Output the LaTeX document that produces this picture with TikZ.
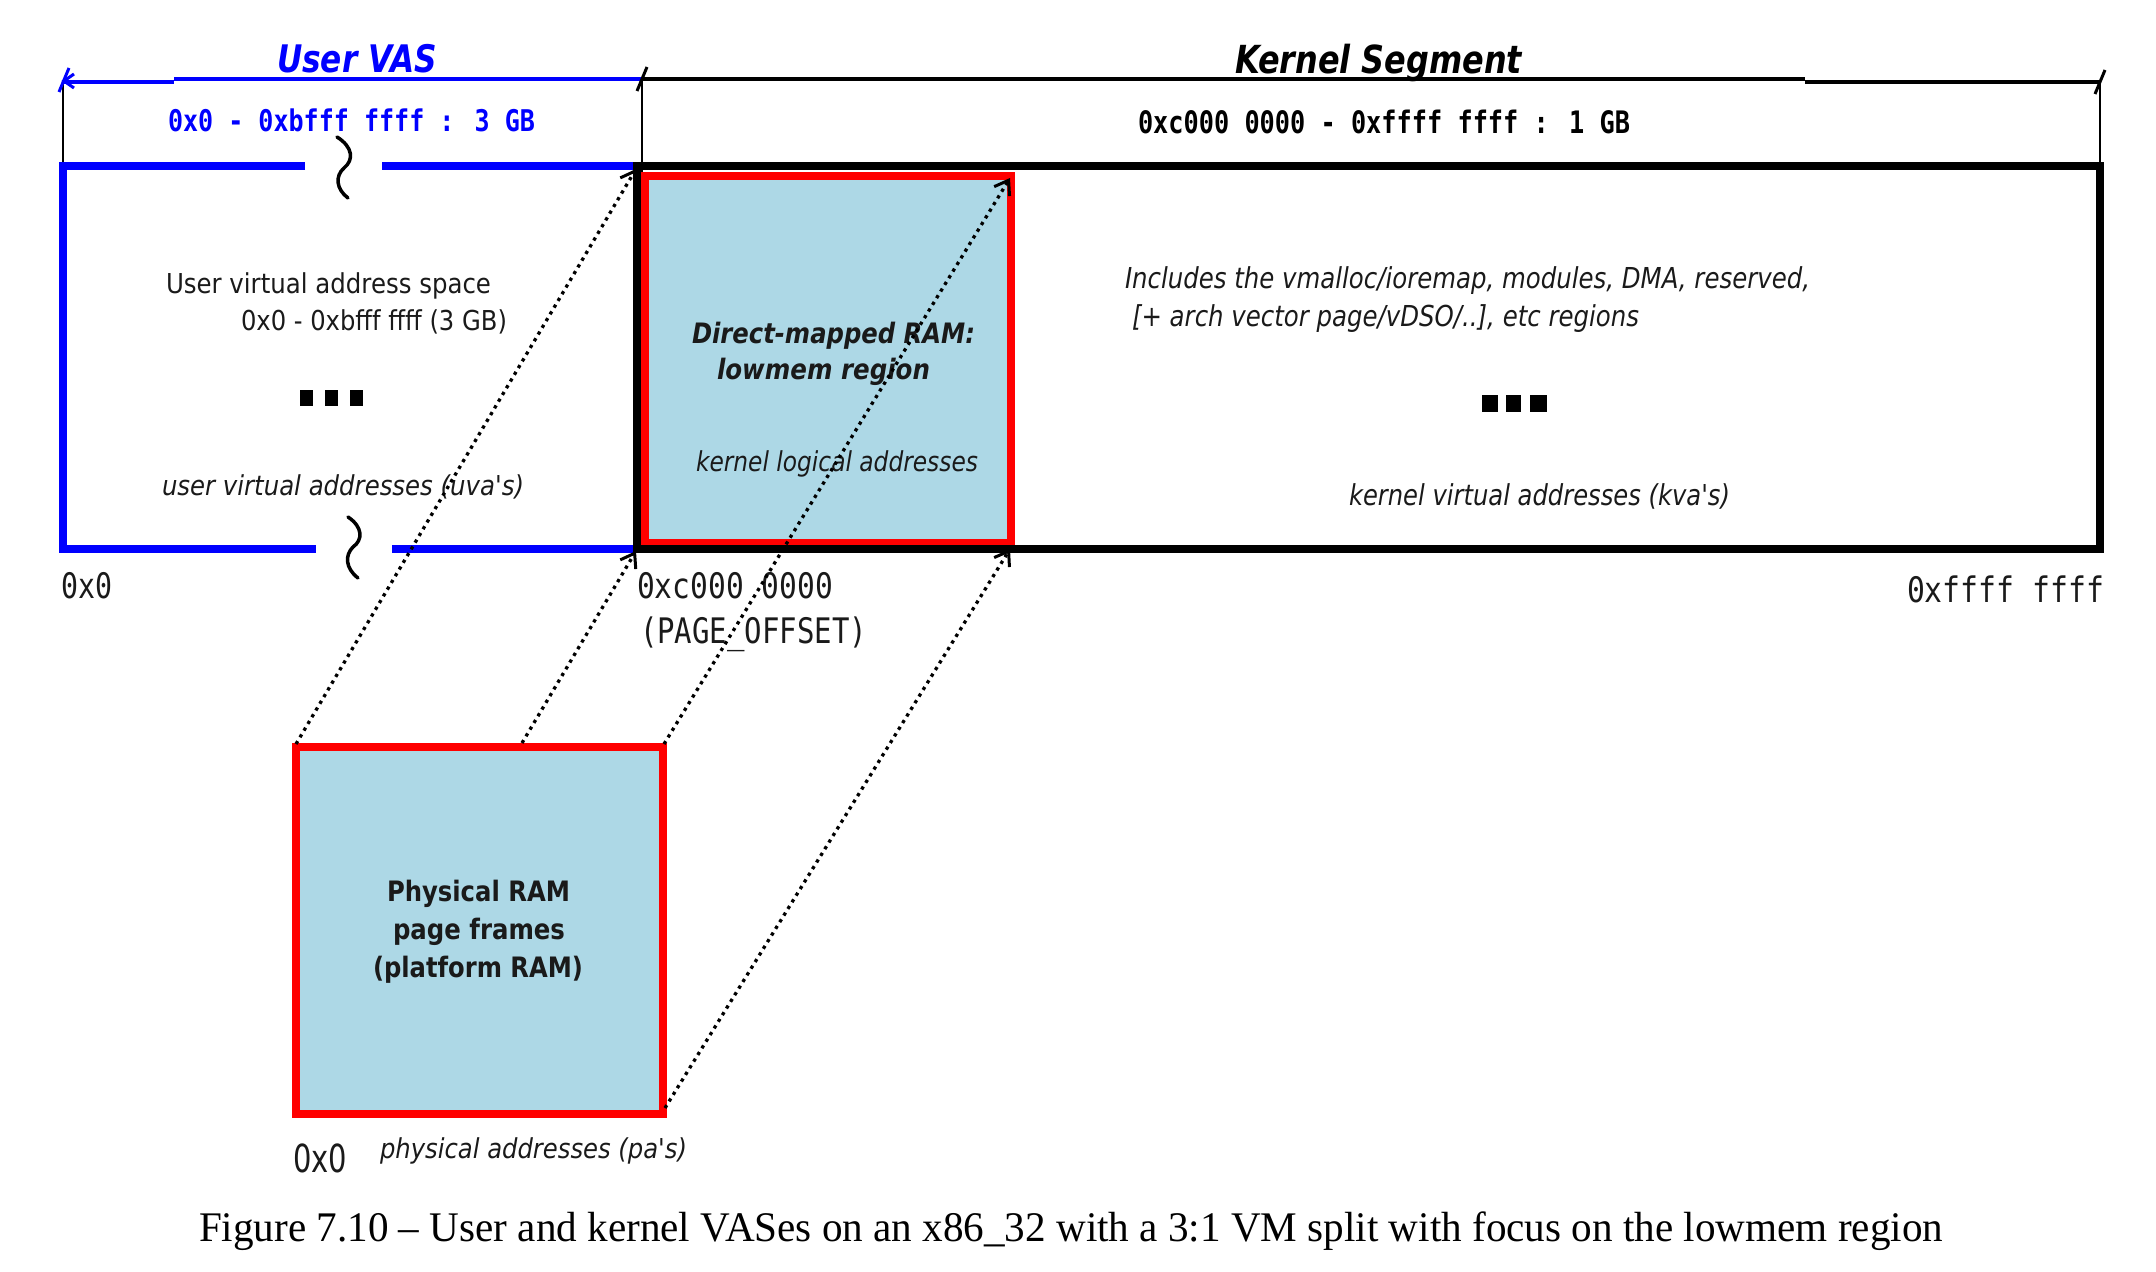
\documentclass[tikz,border=0pt]{standalone}
\usepackage{fontspec}
\usepackage{graphicx}
\setmainfont{DejaVu Sans}
\newfontfamily\dvmono{DejaVu Sans Mono}
\newfontfamily\capfont{Liberation Serif}
\usetikzlibrary{arrows.meta}
\definecolor{lblue}{HTML}{ADD8E6}
\definecolor{txtc}{HTML}{1A1A1A}
\newdimen\pxu \pxu=0.1mm
\newcommand\fw[2]{\resizebox{#1\pxu}{\height}{#2}}
\newcommand\fsz[1]{\fontsize{#1}{#1}\selectfont}
\newcommand\apos{\textquotesingle}
\begin{document}
\begin{tikzpicture}[x=0.1mm,y=-0.1mm,
  txt/.style={anchor=base west, inner sep=0pt, outer sep=0pt, text=txtc},
  dimline/.style={line width=0.35mm},
  thinv/.style={line width=0.25mm, black},
  bigline/.style={line width=0.8mm, line join=miter},
  ram/.style={draw=red, fill=lblue, line width=0.75mm, inner sep=0pt, outer sep=0pt},
  squig/.style={line width=0.35mm, line cap=round},
  dotarrow/.style={line width=0.33mm, dash pattern=on 0.33mm off 0.45mm,
     -{Straight Barb[length=1.3mm,width=1.8mm,line width=0.3mm]}}]
\useasboundingbox (0,0) rectangle (2156,1272);

% ---- top dimension lines ----
\draw[dimline, blue] (64,82) -- (174,82);
\draw[dimline, blue] (174,79) -- (642,79);
\draw[dimline] (642,79) -- (1805,79);
\draw[dimline] (1805,82) -- (2100,82);
% vertical thin lines
\draw[thinv] (63,80) -- (63,166);
\draw[thinv] (642,79) -- (642,175);
\draw[thinv] (2100,82) -- (2100,166);
% end ticks
\draw[blue, line width=0.3mm] (59,92) -- (69,68);
\draw[blue, line width=0.3mm] (74,74) -- (64,81) -- (74,88);
\draw[line width=0.3mm] (637,91) -- (647,67);
\draw[line width=0.3mm] (2095,94) -- (2105,70);

% ---- titles ----
\node[txt, text=blue] (uvas) at (277,73) {\fsz{10.8}\bfseries\itshape\fw{160}{User VAS}};
\node[txt, text=black] (kseg) at (1235,74) {\fsz{11}\bfseries\itshape\fw{287}{Kernel Segment}};
\node[txt, text=blue] (ur) at (168,132) {\dvmono\fsz{8.5}\bfseries\fw{367}{0x0 - 0xbfff ffff : 3 GB}};
\node[txt, text=black] (kr) at (1138,134) {\dvmono\fsz{8.8}\bfseries\fw{492}{0xc000 0000 - 0xffff ffff : 1 GB}};

% ---- lowmem box ----
\node[ram, minimum width=366\pxu, minimum height=367\pxu] (low) at (828,359.5) {};

% ---- user box (blue) ----
\draw[bigline, blue] (305,166) -- (63,166) -- (63,549) -- (316,549);
\draw[bigline, blue] (382,166) -- (637,166);
\draw[bigline, blue] (392,549) -- (637,549);
% ---- kernel box ----
\draw[bigline] (637,166) -- (2100,166) -- (2100,549) -- (637,549) -- cycle;

% squiggles
\draw[squig] (337,137) .. controls (353,147) and (354,160) .. (344,168) .. controls (335,176) and (336,189) .. (348,198);
\draw[squig] (348,517) .. controls (363,527) and (363,540) .. (353,547) .. controls (345,555) and (345,568) .. (358,578);

% ---- user box texts ----
\node[txt] (u1) at (166,294) {\fsz{7.8}\fw{325}{User virtual address space}};
\node[txt] (u2) at (241,331) {\fsz{7.8}\fw{266}{0x0 - 0xbfff ffff (3 GB)}};
\fill[black] (300,390) rectangle (313,406);
\fill[black] (325,390) rectangle (338,406);
\fill[black] (350,390) rectangle (363,406);
\node[txt] (u3) at (162,496) {\fsz{7.8}\itshape\fw{362}{user virtual addresses (uva\apos s)}};

% ---- lowmem texts ----
\node[txt] (l1) at (692,343) {\fsz{8}\bfseries\itshape\fw{283}{Direct-mapped RAM:}};
\node[txt] (l2) at (717,380) {\fsz{8}\bfseries\itshape\fw{213}{lowmem region}};
\node[txt] (l3) at (696,472) {\fsz{7.8}\itshape\fw{282}{kernel logical addresses}};

% ---- kernel texts ----
\node[txt] (k1) at (1125,289) {\fsz{8.2}\itshape\fw{685}{Includes the vmalloc/ioremap, modules, DMA, reserved,}};
\node[txt] (k2) at (1132,327) {\fsz{8.2}\itshape\fw{507}{[+ arch vector page/vDSO/..], etc regions}};
\fill[black] (1482,395) rectangle (1498,412);
\fill[black] (1506,395) rectangle (1521,412);
\fill[black] (1530,395) rectangle (1547,412);
\node[txt] (k3) at (1349,506) {\fsz{8.2}\itshape\fw{381}{kernel virtual addresses (kva\apos s)}};

% ---- address labels ----
\node[txt] (a0) at (62,598) {\dvmono\fsz{10}\fw{51}{0x0}};
\node[txt] (ac) at (637,598) {\dvmono\fsz{10}\fw{196}{0xc000 0000}};
\node[txt] (ap) at (640,644) {\dvmono\fsz{10}\fw{227}{(PAGE\_OFFSET)}};
\node[txt] (af) at (1907,602) {\dvmono\fsz{10}\fw{197}{0xffff ffff}};

% ---- physical RAM ----
\node[ram, minimum width=367\pxu, minimum height=367\pxu] (phys) at (479.5,930.5) {};
\node[txt] (p1) at (387,901) {\fsz{8}\bfseries\fw{183}{Physical RAM}};
\node[txt] (p2) at (393,939) {\fsz{8}\bfseries\fw{172}{page frames}};
\node[txt] (p3) at (373,977) {\fsz{8}\bfseries\fw{210}{(platform RAM)}};
\node[txt] (p0) at (293,1172) {\fsz{11}\fw{54}{0x0}};
\node[txt] (pa) at (380,1158) {\fsz{7.8}\itshape\fw{307}{physical addresses (pa\apos s)}};

% ---- mapping arrows ----
\coordinate (s1) at (296,744);
\coordinate (e1) at (636,169);
\coordinate (s2) at (522,743);
\coordinate (e2) at (636,551);
\coordinate (s3) at (664,744);
\coordinate (e3) at (1010,178);
\coordinate (s4) at (665,1108);
\coordinate (e4) at (1010,549);
\draw[dotarrow] (s1) -- (e1);
\draw[dotarrow] (s2) -- (e2);
\draw[dotarrow] (s3) -- (e3);
\draw[dotarrow] (s4) -- (e4);

% ---- caption ----
\node[txt, text=black] (cap) at (199,1241) {\capfont\fsz{12}\fw{1744}{Figure 7.10 – User and kernel VASes on an x86\_32 with a 3:1 VM split with focus on the lowmem region}};
\end{tikzpicture}
\end{document}
